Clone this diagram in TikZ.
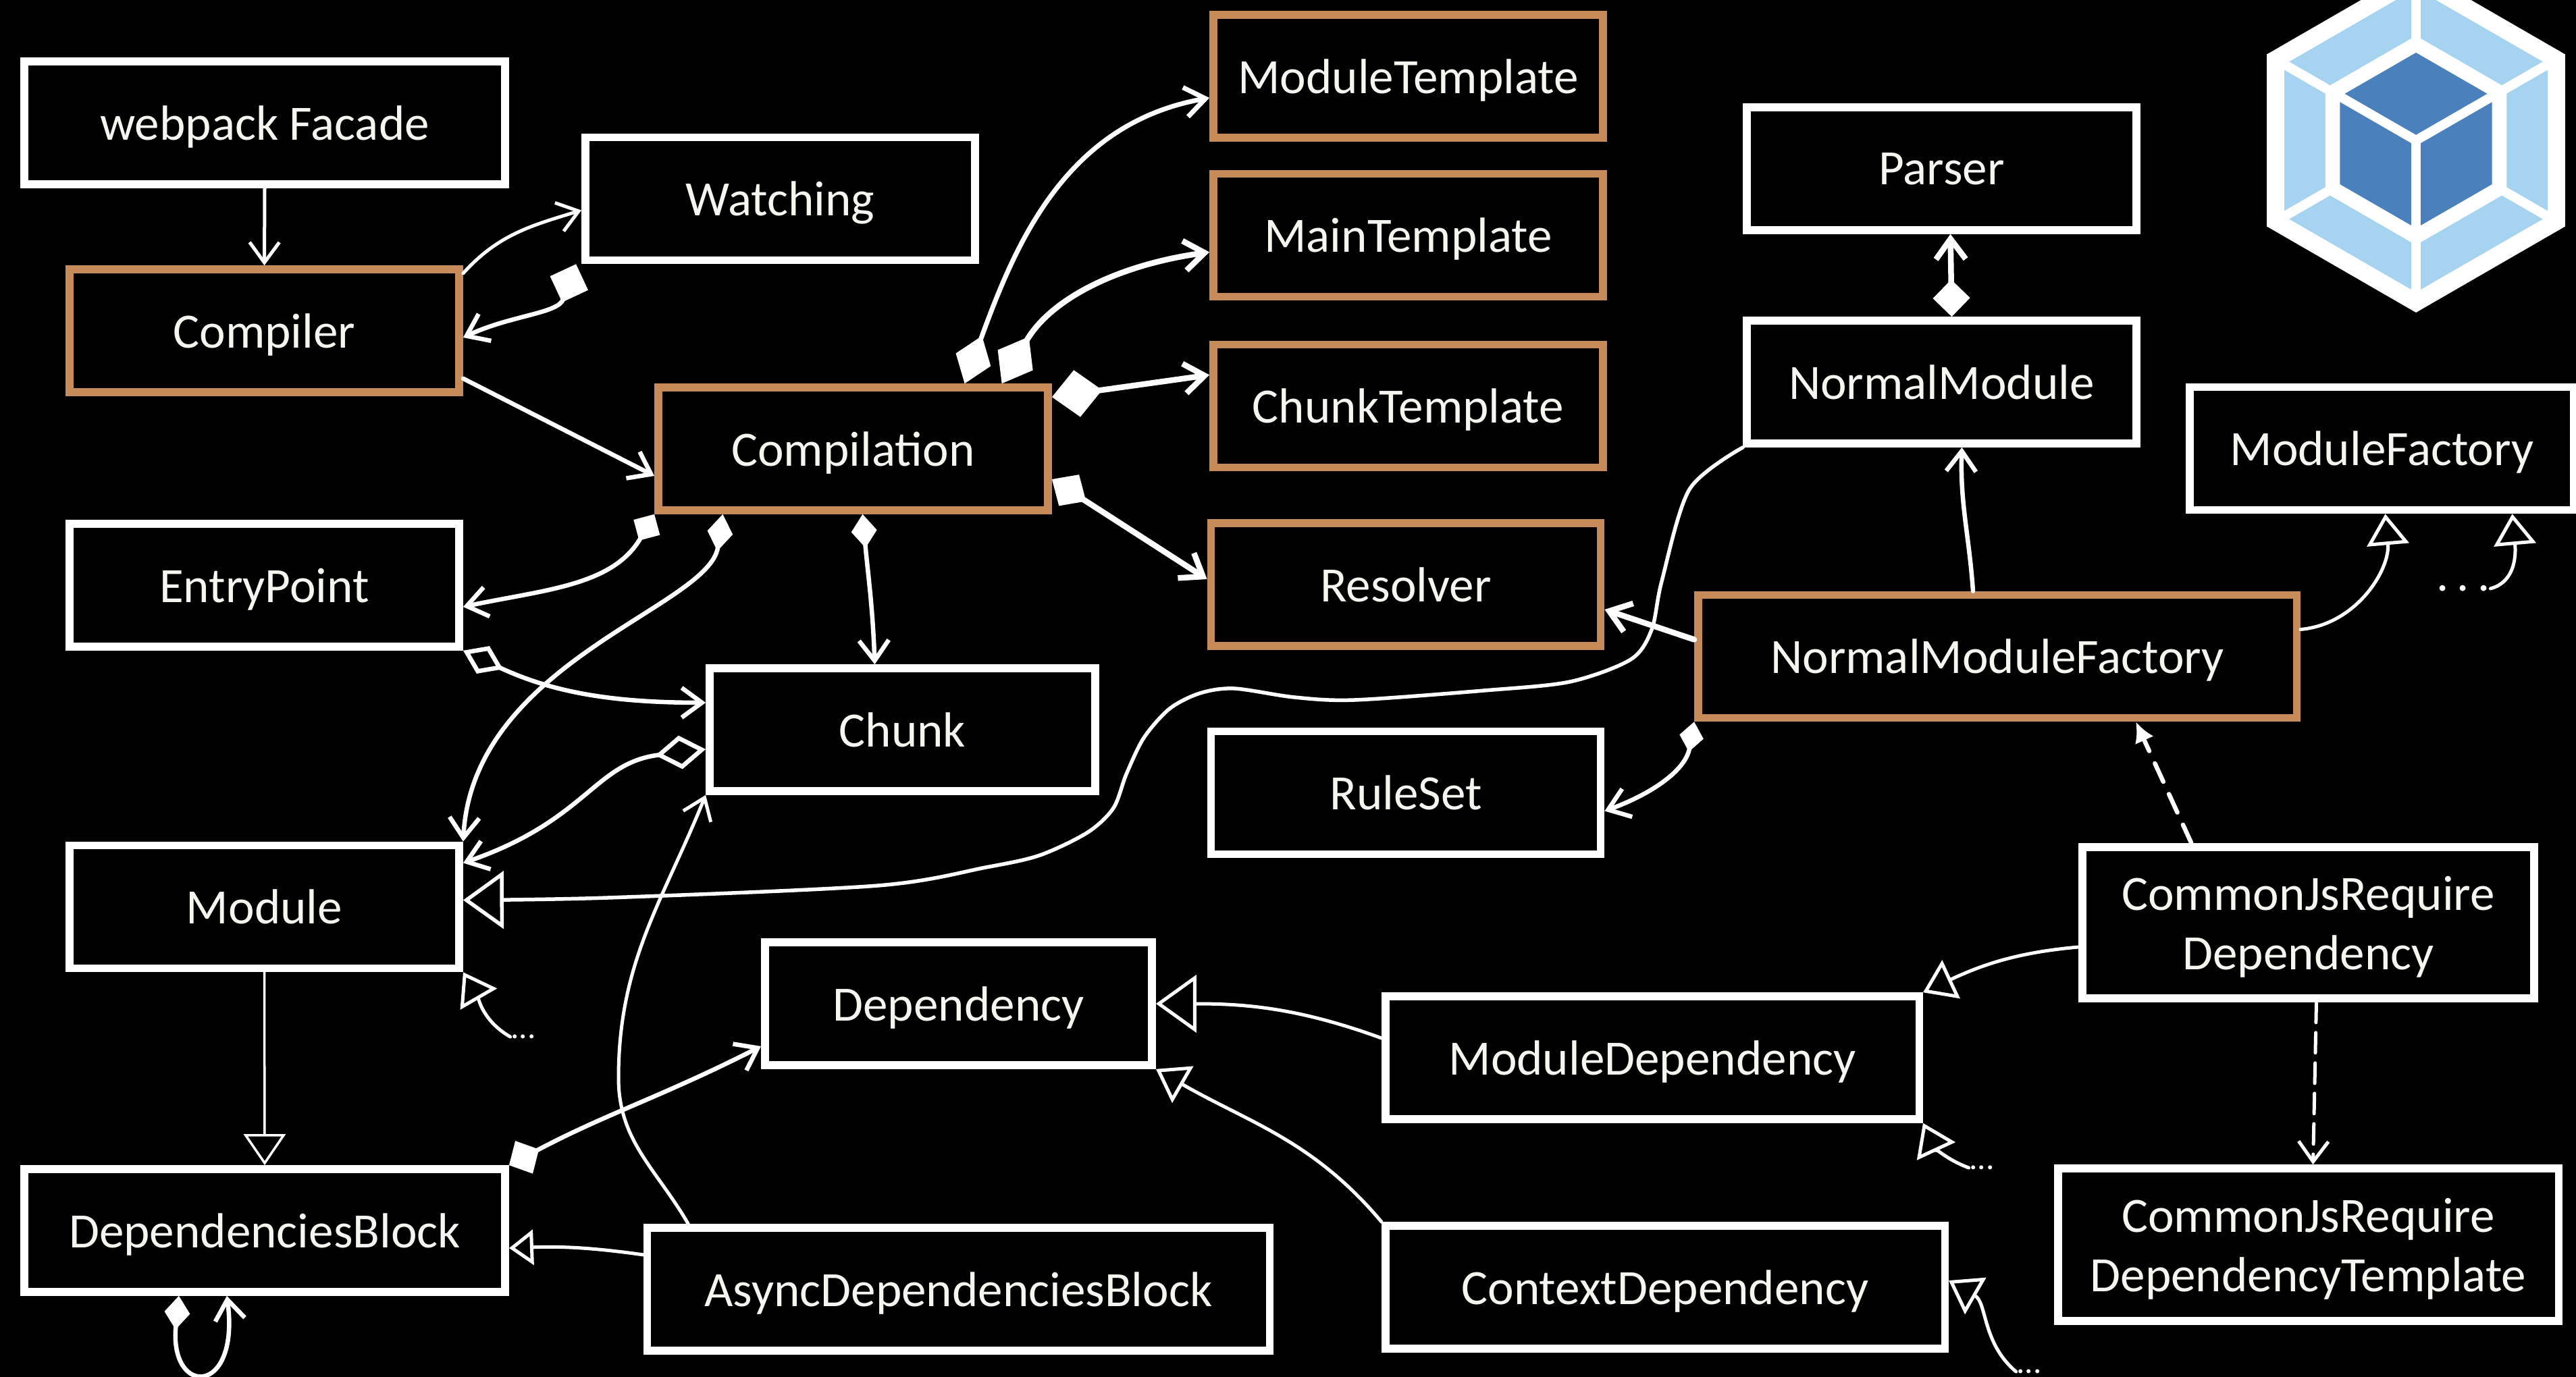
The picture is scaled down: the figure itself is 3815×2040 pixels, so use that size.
\documentclass[tikz,border=0pt]{standalone}
\usepackage{fontspec}
\setmainfont{Carlito}
\usetikzlibrary{arrows.meta}
\definecolor{coreorange}{HTML}{C68B58}
\definecolor{logolight}{HTML}{A6D3EF}
\definecolor{logodark}{HTML}{4A80BC}
\definecolor{boxtext}{HTML}{F6F5EF}
\tikzset{
	barb/.tip={Straight Barb[length=3mm,width=4.4mm]},
	isa/.tip={Triangle[open,fill=black,length=4.6mm,width=6.2mm]},
	bigisa/.tip={Triangle[open,fill=black,length=6mm,width=8.5mm]},
	smallisa/.tip={Triangle[open,fill=black,length=3.6mm,width=5.2mm]},
	classbox/.style={draw=white,line width=1.15mm,fill=black,text=boxtext,align=center,font=\fontsize{20.8}{25}\selectfont,text depth=0pt,minimum width=5.77cm,minimum height=1.82cm,inner sep=0pt},
	widebox/.style={classbox,minimum width=7.12cm},
	corebox/.style={classbox,draw=coreorange},
	link/.style={draw=white,line width=.65mm,line cap=round,-barb},
	thinlink/.style={link,line width=.5mm},
	thicklink/.style={link,line width=.85mm},
	owned/.style={{Diamond[length=#1,width=.55cm]}-barb},
	owned/.default=.7cm,
	smallowned/.style={{Diamond[length=#1,width=.38cm]}-barb},
	inherits/.style={link,line width=.5mm,-isa},
	dotted text/.style={text=white,inner sep=0pt,font=\fontsize{#1}{#1}\selectfont}
}
\begin{document}
\begin{tikzpicture}[x=.01cm,y=-.01cm]
	\useasboundingbox[fill=black] (0,0) rectangle (3815,2040);
	\node[widebox] (facade) at (392,182) {webpack Facade};
	\node[classbox] (watching) at (1155.5,294.5) {Watching};
	\node[corebox] (compiler) at (391.5,490) {Compiler};
	\node[corebox] (compilation) at (1263.5,665) {Compilation};
	\node[classbox] (entrypoint) at (391.5,867) {EntryPoint};
	\node[classbox] (module) at (391.5,1343.5) {Module};
	\node[widebox] (depblock) at (392,1823) {DependenciesBlock};
	\node[classbox,minimum width=5.71cm] (chunk) at (1336.5,1081) {Chunk};
	\node[classbox,minimum width=5.73cm] (dependency) at (1419.5,1487) {Dependency};
	\node[classbox,minimum width=9.21cm] (asyncblock) at (1419.5,1910) {AsyncDependenciesBlock};
	\node[corebox] (moduletemplate) at (2085.5,113) {ModuleTemplate};
	\node[corebox] (maintemplate) at (2085.5,348.5) {MainTemplate};
	\node[corebox] (chunktemplate) at (2085.5,601.5) {ChunkTemplate};
	\node[corebox] (resolver) at (2082,866) {Resolver};
	\node[classbox] (parser) at (2875.5,250) {Parser};
	\node[classbox] (normalmodule) at (2875.5,566) {NormalModule};
	\node[classbox,minimum width=5.69cm] (modulefactory) at (3527.5,664.5) {ModuleFactory};
	\node[corebox,minimum width=8.86cm] (nmfactory) at (2958,972.5) {NormalModuleFactory};
	\node[classbox] (ruleset) at (2082,1174.5) {RuleSet};
	\node[classbox,minimum width=6.69cm,minimum height=2.24cm] (commonjsdep) at (3418.5,1367) {CommonJsRequire\\Dependency};
	\node[classbox,minimum width=7.9cm] (moduledep) at (2447,1567) {ModuleDependency};
	\node[classbox,minimum width=8.28cm] (contextdep) at (2466,1907) {ContextDependency};
	\node[classbox,minimum width=7.41cm,minimum height=2.26cm] (commonjstemplate) at (3418.5,1844) {CommonJsRequire\\DependencyTemplate};
	\node[dotted text=14] (moduledots) at (775,1536) {...};
	\node[dotted text=14] (moduledepdots) at (2935,1730) {...};
	\node[dotted text=14] (contextdots) at (3005,2032) {...};
	\node[dotted text=20.5] (factorydots) at (3648,872) {.\,.\,.};
	\draw[thinlink] (facade.south) -- (compiler.north);
	\draw[thinlink] ([yshift=.85cm]compiler.east) to[out=48,in=197] ([yshift=-.17cm]watching.west);
	\draw[link,{Diamond[length=.6cm,width=.6cm]}-barb] ([xshift=-.08cm]watching.south west) to[out=-110,in=25] ([yshift=-.1cm]compiler.east);
	\draw[link] ([yshift=.26cm]compiler.south east) -- ([yshift=-.4cm]compilation.west);
	\draw[link,{Diamond[length=.45cm,width=.45cm]}-barb] (compilation.south west) to[out=-120,in=12] ([yshift=-.32cm]entrypoint.east);
	\draw[link,smallowned=.55cm] ([xshift=-1.93cm]compilation.south) .. controls (1050,900) and (700,980) .. (module.north east);
	\draw[link,smallowned=.5cm] ([xshift=.14cm]compilation.south) to[out=-85,in=92] ([xshift=-.41cm]chunk.north);
	\draw[link,{Diamond[open,fill=black,length=.65cm,width=.45cm]}-barb] (entrypoint.south east) to[out=-25,in=180] ([yshift=.4cm]chunk.west);
	\draw[link,{Diamond[open,fill=black,length=.75cm,width=.5cm]}-barb] ([yshift=-.29cm]chunk.west) .. controls (880,1130) and (870,1215) .. ([yshift=.65cm]module.east);
	\draw[inherits,line width=.55mm,-bigisa] plot[smooth,tension=.5] coordinates {(normalmodule.south west) (2502,725) (2461,861) (2446,933) (2415,977) (2325,1010) (2198,1023) (2006,1037) (1917,1033) (1828,1020) (1777,1027) (1732,1050) (1694,1093) (1668,1147) (1649,1197) (1611,1233) (1540,1267) (1460,1285) (1300,1312) (900,1330) ([yshift=.1cm]module.east)};
	\draw[link] ([xshift=-.36cm]nmfactory.north) to[out=94,in=-92] ([xshift=.3cm]normalmodule.south);
	\draw[thicklink,owned=.55cm] ([xshift=.15cm]normalmodule.north) -- ([xshift=.13cm]parser.south);
	\draw[thicklink] ([yshift=.25cm]nmfactory.west) -- ([yshift=-.37cm]resolver.east);
	\draw[link,{Diamond[length=.45cm,width=.36cm]}-barb] (nmfactory.south west) to[out=-100,in=20] ([yshift=-.27cm]ruleset.east);
	\draw[inherits] ([yshift=.4cm]nmfactory.east) to[out=5,in=-85] ([xshift=.05cm]modulefactory.south);
	\draw[inherits] (factorydots.east) ++(.3,0) to[out=15,in=-85] ([xshift=1.93cm]modulefactory.south);
	\draw[inherits] (moduledots.west) to[out=150,in=-60] (module.south east);
	\draw[inherits,line width=.35mm] (module.south) -- (depblock.north);
	\draw[link,owned=.5cm] (depblock.north east) to[out=28,in=207] ([yshift=-.63cm]dependency.west);
	\draw[inherits,-smallisa] ([yshift=.51cm]asyncblock.west) to[out=172,in=2] ([yshift=-.26cm]depblock.east);
	\draw[thinlink] ([xshift=-4cm]asyncblock.north) to[out=120,in=-90] (916,1597) to[out=90,in=-112] (chunk.south west);
	\draw[inherits,-bigisa] ([yshift=.29cm]moduledep.west) to[out=160,in=0] (dependency.east);
	\draw[inherits] (contextdep.north west) to[out=130,in=-30] (dependency.south east);
	\draw[inherits] ([yshift=-.36cm]commonjsdep.west) to[out=185,in=25] (moduledep.north east);
	\draw[inherits] (moduledepdots.west) to[out=160,in=-65] (moduledep.south east);
	\draw[inherits] (contextdots.west) to[out=140,in=-30] ([yshift=.1cm]contextdep.east);
	\draw[link,dash pattern=on 3mm off 2mm,-{Latex[length=3mm,width=3mm]}] ([xshift=-1.73cm]commonjsdep.north) -- ([xshift=2.05cm]nmfactory.south);
	\draw[link,dash pattern=on 3mm off 1.5mm,line width=.5mm] ([xshift=.12cm]commonjsdep.south) -- ([xshift=.07cm]commonjstemplate.north);
	\draw[link,smallowned=.5cm] ([xshift=-1.27cm]depblock.south) .. controls +(-15,150) and +(20,150) .. ([xshift=-.56cm]depblock.south);
	\draw[link,owned=.75cm,line width=.7mm] ([xshift=1.65cm]compilation.north) to[out=70,in=-170] ([yshift=-.32cm]moduletemplate.west);
	\draw[thicklink,{Diamond[length=.8cm,width=.6cm]}-barb] ([xshift=2.2cm]compilation.north) to[out=60,in=188] ([yshift=-.25cm]maintemplate.west);
	\draw[thicklink,{Diamond[length=.75cm,width=.7cm]}-barb] ([yshift=-.2cm]compilation.north east) -- ([yshift=.46cm]chunktemplate.west);
	\draw[thicklink,{Diamond[length=.6cm,width=.55cm]}-barb] ([yshift=-.45cm]compilation.east) -- ([yshift=.08cm]resolver.west);
	\fill[white] (3578,208) ++(90:255) -- ++(-30:255) -- ++(-90:255) -- ++(-150:255) -- ++(150:255) -- ++(90:255) -- cycle;
	\fill[logolight] (3578,208) ++(90:225) -- ++(-30:225) -- ++(-90:225) -- ++(-150:225) -- ++(150:225) -- ++(90:225) -- cycle;
	\foreach \a in {30,90,150,210,270,330} {
		\draw[white,line width=.14cm] (3578,208) -- ++(\a:2.4cm);
	}
	\fill[white] (3578,208) ++(90:155) -- ++(-30:155) -- ++(-90:155) -- ++(-150:155) -- ++(150:155) -- ++(90:155) -- cycle;
	\fill[logodark] (3578,208) ++(90:130) -- ++(-30:130) -- ++(-90:130) -- ++(-150:130) -- ++(150:130) -- ++(90:130) -- cycle;
	\foreach \a in {30,150,270} {
		\draw[white,line width=.14cm] (3578,208) -- ++(\a:1.4cm);
	}
\end{tikzpicture}
\end{document}
